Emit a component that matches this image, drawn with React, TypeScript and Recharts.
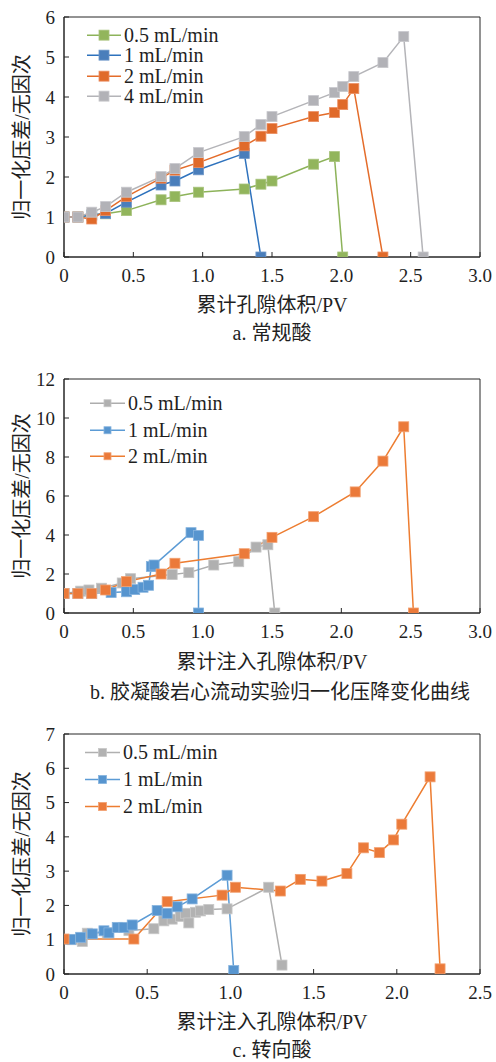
import React from 'react';
import { LineChart, Line, XAxis, YAxis, ReferenceArea, Legend } from 'recharts';

// ---------- Chart a: 常规酸 ----------
const aGreenX = [0, 0.1, 0.2, 0.3, 0.45, 0.7, 0.8, 0.97, 1.3, 1.42, 1.5, 1.8, 1.95, 2.01];
const aGreenY = [1, 1, 1.05, 1.08, 1.16, 1.43, 1.51, 1.62, 1.7, 1.82, 1.9, 2.32, 2.51, 0];
const aBlueX = [0, 0.1, 0.2, 0.3, 0.45, 0.7, 0.8, 0.97, 1.3, 1.42];
const aBlueY = [1, 1, 1.05, 1.09, 1.37, 1.8, 1.9, 2.18, 2.59, 0];
const aOrangeX = [0, 0.1, 0.2, 0.3, 0.45, 0.7, 0.8, 0.97, 1.3, 1.42, 1.5, 1.8, 1.95, 2.01, 2.09, 2.3];
const aOrangeY = [1, 1, 0.95, 1.16, 1.51, 1.97, 2.17, 2.36, 2.78, 3.02, 3.21, 3.51, 3.61, 3.81, 4.21, 0];
const aGrayX = [0, 0.1, 0.2, 0.3, 0.45, 0.7, 0.8, 0.97, 1.3, 1.42, 1.5, 1.8, 1.95, 2.01, 2.09, 2.3, 2.45, 2.59];
const aGrayY = [1, 1, 1.12, 1.26, 1.62, 2.01, 2.21, 2.61, 3.01, 3.31, 3.51, 3.91, 4.11, 4.26, 4.51, 4.86, 5.51, 0];
const aXTicks = [0, 0.5, 1, 1.5, 2, 2.5, 3];
const aYTicks = [0, 1, 2, 3, 4, 5, 6];

// ---------- Chart b: 胶凝酸 ----------
const bGrayX = [0, 0.12, 0.18, 0.27, 0.42, 0.48, 0.78, 0.9, 1.08, 1.26, 1.385, 1.47, 1.52];
const bGrayY = [1, 1.12, 1.18, 1.27, 1.54, 1.76, 1.97, 2.07, 2.46, 2.63, 3.38, 3.5, 0];
const bBlueX = [0, 0.1, 0.2, 0.34, 0.45, 0.51, 0.57, 0.61, 0.63, 0.65, 0.916, 0.97, 0.97];
const bBlueY = [1, 1, 1, 1.05, 1.09, 1.2, 1.32, 1.42, 2.38, 2.46, 4.12, 3.98, 0];
const bOrangeX = [0, 0.1, 0.2, 0.3, 0.45, 0.7, 0.8, 1.3, 1.5, 1.8, 2.1, 2.3, 2.45, 2.52];
const bOrangeY = [1, 1, 1, 1.18, 1.61, 2.0, 2.55, 3.04, 3.88, 4.94, 6.21, 7.79, 9.55, 0];
const bXTicks = [0, 0.5, 1, 1.5, 2, 2.5, 3];
const bYTicks = [0, 2, 4, 6, 8, 10, 12];

// ---------- Chart c: 转向酸 ----------
const cGrayX = [0.05, 0.11, 0.14, 0.26, 0.39, 0.54, 0.6, 0.65, 0.7, 0.73, 0.75, 0.79, 0.82, 0.87, 0.98, 1.23, 1.31];
const cGrayY = [1.0, 0.95, 1.19, 1.2, 1.27, 1.32, 1.55, 1.6, 1.68, 1.77, 1.49, 1.8, 1.84, 1.88, 1.9, 2.53, 0.26];
const cBlueX = [0.04, 0.1, 0.17, 0.24, 0.27, 0.32, 0.36, 0.41, 0.56, 0.62, 0.68, 0.77, 0.98, 1.02];
const cBlueY = [1.01, 1.07, 1.17, 1.26, 1.2, 1.36, 1.36, 1.43, 1.85, 1.77, 1.96, 2.19, 2.88, 0.1];
const cOrangeX = [0, 0.42, 0.62, 0.95, 1.03, 1.3, 1.42, 1.55, 1.7, 1.8, 1.895, 1.98, 2.03, 2.2, 2.26];
const cOrangeY = [1.02, 1.02, 2.11, 2.3, 2.53, 2.42, 2.76, 2.71, 2.93, 3.68, 3.54, 3.91, 4.37, 5.75, 0.15];
const cXTicks = [0, 0.5, 1, 1.5, 2, 2.5];
const cYTicks = [0, 1, 2, 3, 4, 5, 6, 7];

const names4 = ['0.5 mL/min', '1 mL/min', '2 mL/min', '4 mL/min'];
const names3 = ['0.5 mL/min', '1 mL/min', '2 mL/min'];
const yTitle = '归一化压差/无因次';
const xTitleA = '累计孔隙体积/PV';
const xTitleBC = '累计注入孔隙体积/PV';
const captionA = 'a. 常规酸';
const captionB = 'b. 胶凝酸岩心流动实验归一化压降变化曲线';
const captionC = 'c. 转向酸';

const FONT = '"Liberation Serif", "Times New Roman", "Noto Sans CJK SC", serif';
const TEXT = '#1f1f1f';
const AXIS = '#262626';

const pts = (xs: number[], ys: number[]) => xs.map((x, i) => ({ x, y: ys[i] }));

const seriesA = [
  { name: names4[0], data: pts(aGreenX, aGreenY), line: '#8DB35A', fill: '#92B55C', edge: '#A9C47E' },
  { name: names4[1], data: pts(aBlueX, aBlueY), line: '#2E72BD', fill: '#4A7EBB', edge: '#6E97C8' },
  { name: names4[2], data: pts(aOrangeX, aOrangeY), line: '#E46C2A', fill: '#E06A2A', edge: '#EC9064' },
  { name: names4[3], data: pts(aGrayX, aGrayY), line: '#B4B4B8', fill: '#B2B2B7', edge: '#C8C8CC' },
];
const seriesB = [
  { name: names3[0], data: pts(bGrayX, bGrayY), line: '#ADADAD', fill: '#B0B0B0', edge: '#C6C6C6' },
  { name: names3[1], data: pts(bBlueX, bBlueY), line: '#5B9BD5', fill: '#5795CF', edge: '#86B3DE' },
  { name: names3[2], data: pts(bOrangeX, bOrangeY), line: '#ED7D31', fill: '#EB7A3A', edge: '#F2A070' },
];
const seriesC = [
  { name: names3[0], data: pts(cGrayX, cGrayY), line: '#B0B0B0', fill: '#B2B2B2', edge: '#C8C8C8' },
  { name: names3[1], data: pts(cBlueX, cBlueY), line: '#5B9BD5', fill: '#5795CF', edge: '#86B3DE' },
  { name: names3[2], data: pts(cOrangeX, cOrangeY), line: '#ED7D31', fill: '#EB7A3A', edge: '#F2A070' },
];

type Series = { name: string; data: { x: number; y: number }[]; line: string; fill: string; edge: string };

const squareDot = (size: number, fill: string, edge: string) => (props: any) => {
  const { cx, cy, index } = props;
  if (cx == null || cy == null) return <g key={`n${index}`} />;
  return (
    <rect key={`d${index}`} x={cx - size / 2} y={cy - size / 2} width={size} height={size}
      fill={fill} stroke={edge} strokeWidth={0.8} />
  );
};

type PanelProps = {
  top: number; height: number; plotTop: number; plotBottom: number;
  xMax: number; xTicks: number[]; yMax: number; yTicks: number[];
  series: Series[]; markerSize: number;
  legend: { left: number; top: number; rowH: number; lineW: number; marker: number };
  xTitle: string; xTitleY: number; caption: string; captionY: number; captionX: number;
};

const Panel = (p: PanelProps) => {
  const relTop = p.plotTop - p.top;
  const relBottom = p.plotBottom - p.top;
  const xAxisH = 40;
  const marginBottom = p.height - relBottom - xAxisH;
  const legendContent = () => (
    <div style={{ fontFamily: FONT, fontSize: 20, color: TEXT }}>
      {p.series.map((s) => (
        <div key={s.name} style={{ height: p.legend.rowH, display: 'flex', alignItems: 'center', whiteSpace: 'nowrap' }}>
          <svg width={p.legend.lineW} height={p.legend.rowH} style={{ display: 'block' }}>
            <line x1={0} x2={p.legend.lineW} y1={p.legend.rowH / 2} y2={p.legend.rowH / 2} stroke={s.line} strokeWidth={1.5} />
            <rect x={p.legend.lineW / 2 - p.legend.marker / 2} y={p.legend.rowH / 2 - p.legend.marker / 2}
              width={p.legend.marker} height={p.legend.marker} fill={s.fill} stroke={s.edge} strokeWidth={0.8} />
          </svg>
          <span style={{ marginLeft: 3, lineHeight: `${p.legend.rowH}px` }}>{s.name}</span>
        </div>
      ))}
    </div>
  );
  return (
    <>
      <div style={{ position: 'absolute', top: p.top, left: 0 }}>
        <LineChart width={496} height={p.height}
          margin={{ top: relTop, right: 16, bottom: marginBottom, left: 0 }}
          style={{ fontFamily: FONT }}>
          <ReferenceArea x1={0} x2={p.xMax} y1={0} y2={p.yMax} fill="none" stroke={AXIS} strokeWidth={1} ifOverflow="visible" />
          <XAxis dataKey="x" type="number" domain={[0, p.xMax]} ticks={p.xTicks} interval={0}
            allowDataOverflow height={xAxisH}
            tickFormatter={(v: number) => (v === 0 ? '0' : v.toFixed(1))}
            stroke={AXIS} tickSize={-5} tickMargin={17}
            tick={{ fill: TEXT, fontSize: 19, fontFamily: FONT }} />
          <YAxis dataKey="y" type="number" domain={[0, p.yMax]} ticks={p.yTicks} interval={0}
            allowDataOverflow width={64}
            stroke={AXIS} tickSize={-5} tickMargin={14}
            tick={{ fill: TEXT, fontSize: 19, fontFamily: FONT }}
            label={{ value: yTitle, angle: -90, position: 'center', dx: -10, fill: TEXT, fontSize: 20, fontFamily: FONT }} />
          <Legend verticalAlign="middle" align="center" layout="horizontal" content={legendContent}
            wrapperStyle={{ top: p.legend.top, left: p.legend.left, width: 'auto', height: 'auto' }} />
          {p.series.map((s) => (
            <Line key={s.name} data={s.data} dataKey="y" name={s.name} type="linear"
              stroke={s.line} strokeWidth={1.5}
              dot={squareDot(p.markerSize, s.fill, s.edge)} activeDot={false}
              isAnimationActive={false} />
          ))}
        </LineChart>
      </div>
      <div style={{ position: 'absolute', top: p.xTitleY - 14, left: 64, width: 416, height: 28, lineHeight: '28px',
        textAlign: 'center', fontFamily: FONT, fontSize: 20, color: TEXT, whiteSpace: 'nowrap' }}>{p.xTitle}</div>
      <div style={{ position: 'absolute', top: p.captionY - 14, left: p.captionX - 250, width: 500, height: 28, lineHeight: '28px',
        textAlign: 'center', fontFamily: FONT, fontSize: 20, color: TEXT, whiteSpace: 'nowrap' }}>{p.caption}</div>
    </>
  );
};

export default function App() {
  return (
    <div style={{ position: 'absolute', top: 0, left: 0, width: 496, height: 1062, background: '#fff', overflow: 'hidden' }}>
      <Panel top={0} height={300} plotTop={17} plotBottom={257} xMax={3} xTicks={aXTicks} yMax={6} yTicks={aYTicks}
        series={seriesA} markerSize={10}
        legend={{ left: 87, top: 25, rowH: 20.3, lineW: 34, marker: 10 }}
        xTitle={xTitleA} xTitleY={305} caption={captionA} captionY={333} captionX={272} />
      <Panel top={360} height={300} plotTop={379} plotBottom={613} xMax={3} xTicks={bXTicks} yMax={12} yTicks={bYTicks}
        series={seriesB} markerSize={10}
        legend={{ left: 90, top: 30, rowH: 26.5, lineW: 35, marker: 7 }}
        xTitle={xTitleBC} xTitleY={662} caption={captionB} captionY={692} captionX={280} />
      <Panel top={715} height={300} plotTop={734} plotBottom={974} xMax={2.5} xTicks={cXTicks} yMax={7} yTicks={cYTicks}
        series={seriesC} markerSize={10}
        legend={{ left: 85, top: 24, rowH: 27, lineW: 35, marker: 8 }}
        xTitle={xTitleBC} xTitleY={1022} caption={captionC} captionY={1050} captionX={272} />
    </div>
  );
}
